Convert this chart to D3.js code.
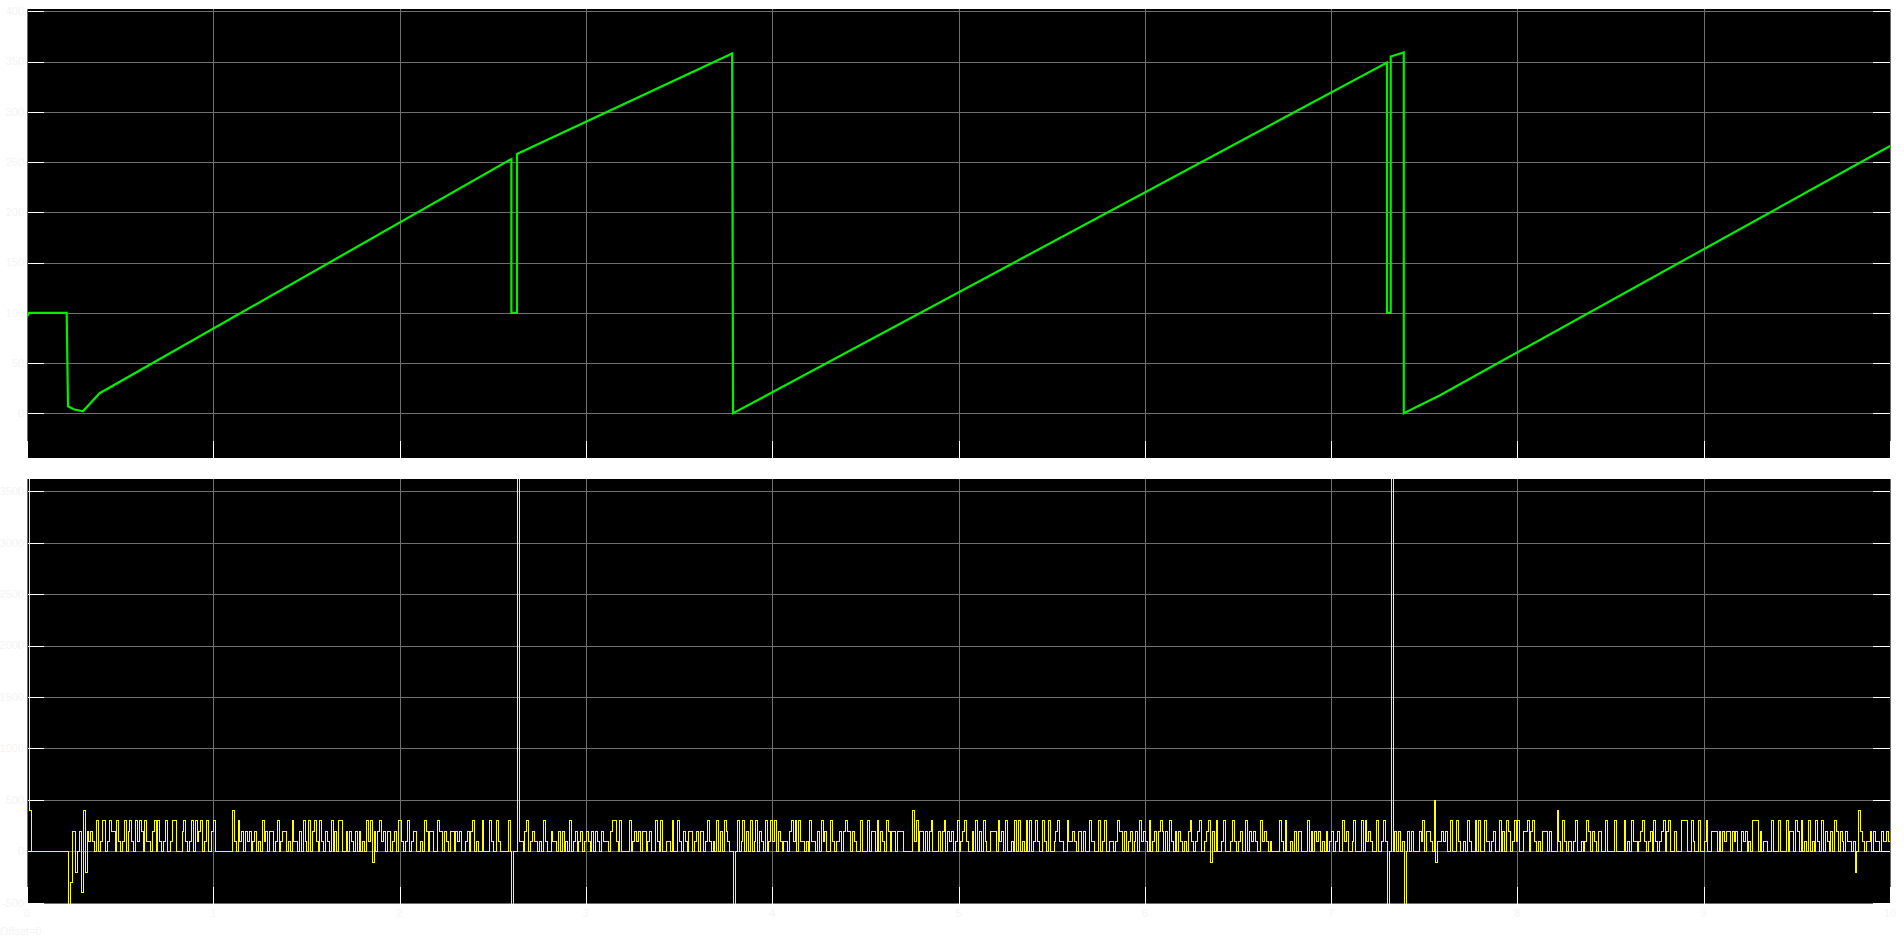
<!DOCTYPE html>
<html>
<head>
<meta charset="utf-8">
<script src="https://cdn.jsdelivr.net/npm/d3@7/dist/d3.min.js"></script>
<style>
    body { margin: 0; background: #ffffff; }
    text { font-family: "Liberation Sans", Arial, sans-serif; font-size: 11px; fill: #f4f4f4; }
</style>
</head>
<body>
<svg id="scope" width="1904" height="940"></svg>
<script>

// Sample time of the logged signals (s)
var dt = 0.01;

// Position signal (upper scope), breakpoints
var posTime = [0, 0.01, 0.213, 0.22, 0.25, 0.30, 0.39, 2.60, 2.60, 2.63, 2.63, 3.785, 3.79,
    7.30, 7.30, 7.32, 7.32, 7.39, 7.39, 7.585, 10];
var posValue = [96, 100, 100, 7, 4, 2, 20, 253, 100, 100, 258, 358, 0,
    349, 100, 100, 355, 359, 0, 18, 266];

// Rate signal (lower scope), one value per sample, in hundreds
var rate0 = [96, 4, 0, 0, 0, 0, 0, 0, 0, 0, 0, 0, 0, 0, 0, 0, 0, 0, 0, 0, 0, 0, -93, -3, 2, 2, -2, 0, 2, -4,
    4, -2, 2, 1, 2, 1, 0, 3, 0, 1, 3, 3, 0, 1, 3, 2, 2, 0, 3, 1, 0, 1, 3, 0, 2, 3, 1, 0, 3, 1,
    3, 2, 0, 3, 1, 1, 0, 2, 3, 0, 3, 1, 0, 1, 3, 0, 0, 1, 3, 3, 0, 0, 0, 2, 3, 1, 0, 1, 3, 0,
    3, 1, 2, 3, 0, 1, 3, 0, 0, 2];
var rate1 = [3, 0, 0, 0, 0, 0, 0, 0, 0, 0, 4, 1, 0, 3, 1, 2, 0, 2, 1, 2, 0, 1, 2, 0, 1, 0, 3, 1, 2, 0,
    2, 2, 0, 1, 3, 0, 1, 2, 2, 0, 1, 0, 3, 1, 1, 0, 2, 0, 3, 1, 0, 3, 0, 2, 3, 1, 0, 3, 1, 0,
    2, 1, 0, 3, 0, 2, 0, 3, 3, 0, 0, 2, 0, 2, 1, 0, 2, 0, 2, 0, 1, 0, 3, 1, 3, -1, 2, 0, 2, 3,
    1, 2, 0, 2, 2, 0, 1, 2, 0, 3];
var rate2 = [3, 1, 0, 1, 3, 0, 1, 2, 2, 0, 0, 1, 0, 3, 2, 0, 2, 2, 0, 0, 3, 2, 2, 0, 2, 1, 0, 2, 2, 0,
    2, 1, 2, 0, 0, 1, 2, 0, 2, 3, 0, 1, 0, 0, 3, 0, 0, 0, 3, 1, 0, 0, 3, 1, 0, 0, 0, 0, 3, 0,
    -153, 0, 0, 158, 1, 1, 0, 2, 3, 0, 1, 2, 1, 1, 0, 1, 0, 3, 1, 0, 0, 2, 1, 1, 0, 2, 0, 2, 0, 1,
    0, 3, 0, 1, 2, 0, 1, 2, 0, 1];
var rate3 = [2, 1, 0, 2, 0, 2, 1, 0, 2, 1, 1, 1, 0, 2, 3, 3, 1, 0, 3, 0, 0, 0, 0, 3, 0, 1, 2, 1, 2, 0,
    2, 2, 0, 1, 2, 0, 0, 3, 1, 0, 3, 0, 0, 1, 1, 0, 3, 0, 0, 3, 1, 0, 2, 1, 0, 2, 2, 0, 1, 2,
    0, 2, 2, 0, 1, 3, 1, 0, 1, 0, 3, 0, 2, 0, 3, 2, 1, 0, 0, -358, 0, 3, 0, 1, 3, 0, 2, 0, 3, 0,
    1, 3, 0, 2, 1, 0, 3, 0, 1, 3];
var rate4 = [1, 3, 0, 2, 1, 0, 1, 1, 0, 2, 3, 1, 3, 0, 3, 1, 1, 0, 1, 0, 3, 1, 1, 0, 2, 0, 3, 1, 2, 0,
    0, 3, 1, 0, 1, 1, 2, 0, 2, 3, 2, 2, 0, 2, 1, 0, 0, 3, 0, 0, 0, 3, 0, 2, 2, 0, 3, 0, 2, 1,
    0, 3, 2, 0, 2, 2, 0, 2, 2, 2, 0, 0, 0, 0, 0, 4, 1, 3, 0, 2, 2, 0, 2, 0, 2, 3, 0, 0, 0, 2,
    0, 2, 3, 0, 2, 1, 2, 0, 1, 3];
var rate5 = [0, 1, 2, 3, 1, 0, 0, 2, 0, 3, 0, 2, 0, 3, 1, 0, 0, 2, 2, 2, 0, 3, 1, 2, 0, 3, 0, 0, 1, 0,
    3, 0, 3, 0, 1, 0, 3, 0, 3, 0, 1, 3, 1, 0, 0, 3, 1, 0, 3, 0, 0, 1, 2, 3, 1, 1, 0, 0, 3, 1,
    1, 2, 1, 0, 2, 2, 0, 2, 0, 0, 3, 1, 1, 0, 0, 3, 0, 1, 3, 0, 0, 1, 1, 0, 1, 3, 2, 2, 0, 2,
    0, 1, 2, 0, 1, 2, 0, 3, 1, 2];
var rate6 = [1, 0, 3, 0, 1, 2, 0, 2, 3, 2, 0, 2, 0, 3, 1, 0, 2, 0, 2, 1, 0, 1, 0, 2, 3, 1, 0, 1, 2, 3,
    0, 0, 1, 2, 3, -1, 2, 0, 3, 0, 0, 1, 3, 0, 0, 0, 1, 3, 1, 0, 1, 2, 0, 0, 3, 0, 2, 1, 2, 1,
    0, 0, 3, 1, 2, 1, 0, 1, 0, 0, 0, 0, 3, 1, 0, 3, 0, 0, 1, 0, 2, 0, 2, 2, 0, 0, 0, 3, 0, 2,
    0, 2, 1, 2, 0, 1, 0, 2, 0, 1];
var rate7 = [2, 0, 1, 2, 0, 0, 3, 1, 2, 0, 0, 1, 3, 0, 0, 0, 3, 0, 3, 1, 2, 1, 0, 0, 3, 0, 0, 1, 3, 1,
    -249, 0, 255, 0, 2, 0, 2, 0, 1, -359, 0, 2, 0, 2, 0, 0, 0, 2, 1, 3, 0, 2, 2, 1, 0, 5, -1, 1, 1, 2,
    1, 2, 0, 0, 3, 0, 0, 3, 1, 0, 0, 1, 0, 3, 1, 0, 0, 3, 0, 3, 0, 0, 3, 1, 1, 0, 1, 2, 0, 0,
    3, 0, 2, 0, 3, 2, 0, 1, 3, 1];
var rate8 = [3, 0, 0, 2, 2, 3, 0, 2, 3, 1, 0, 1, 0, 2, 2, 2, 0, 2, 0, 0, 0, 4, 1, 0, 3, 1, 0, 1, 1, 0,
    1, 3, 0, 0, 1, 0, 1, 3, 2, 0, 2, 1, 0, 2, 2, 0, 0, 3, 0, 0, 0, 0, 3, 0, 0, 0, 0, 3, 0, 1,
    0, 3, 1, 1, 0, 1, 2, 3, 1, 0, 1, 2, 0, 3, 1, 0, 1, 2, 3, 0, 2, 3, 0, 0, 2, 0, 0, 0, 3, 3,
    3, 0, 0, 3, 1, 0, 0, 3, 0, 0];
var rate9 = [1, 3, 0, 0, 2, 2, 2, 0, 2, 0, 2, 1, 2, 2, 0, 2, 1, 2, 0, 0, 2, 1, 2, 0, 1, 0, 3, 3, 3, 0,
    2, 0, 1, 1, 0, 0, 3, 0, 0, 0, 3, 0, 0, 0, 3, 0, 2, 2, 0, 3, 2, 0, 3, 0, 1, 0, 3, 0, 1, 0,
    3, 1, 0, 3, 0, 2, 1, 0, 2, 0, 3, 2, 0, 2, 1, 0, 2, 1, 1, 0, 1, -2, 0, 4, 2, 1, 0, 1, 1, 2,
    0, 2, 1, 1, 0, 2, 1, 1, 2, 1];

// Tick values
var xTicks = [0, 1, 2, 3, 4, 5, 6, 7, 8, 9, 10];
var posTicks = [0, 50, 100, 150, 200, 250, 300, 350, 400];
var rateTicks = [-500, 0, 500, 1000, 1500, 2000, 2500, 3000, 3500];

// Select the svg DOM element
var svg = d3.select("#scope");

// Shared time axis
var x = d3.scaleLinear().domain([0, 10]).range([27, 1890]);

// One scale per scope panel
var yPos = d3.scaleLinear().domain([-44.5, 402.3]).range([458, 9]);
var yRate = d3.scaleLinear().domain([-512, 3620]).range([904, 479]);

/**
 * Draw the black panel, grid and inward tick marks
 * @param y scale of the panel
 * @param ticks y tick values
 * @param id clip path id
 * @returns the clipped group for the trace
 */
function drawPanel(y, ticks, id) {
    var x0 = x.range()[0], x1 = x.range()[1];
    var top = y.range()[1], bottom = y.range()[0];
    var tickLen = 17;

    svg.append("rect")
        .attr("x", x0).attr("y", top)
        .attr("width", x1 - x0).attr("height", bottom - top)
        .attr("fill", "#000000");

    var grid = svg.append("g")
        .attr("shape-rendering", "crispEdges");

    // Horizontal grid with white ticks on both sides
    ticks.forEach(function (v) {
        var py = Math.round(y(v)) + 0.5;
        grid.append("line")
            .attr("x1", x0).attr("x2", x1).attr("y1", py).attr("y2", py)
            .attr("stroke", "#6f6f6f");
        grid.append("line")
            .attr("x1", x0).attr("x2", x0 + tickLen).attr("y1", py).attr("y2", py)
            .attr("stroke", "#ffffff");
        grid.append("line")
            .attr("x1", x1 - tickLen).attr("x2", x1).attr("y1", py).attr("y2", py)
            .attr("stroke", "#ffffff");
    });

    // Vertical grid with white ticks at the bottom
    xTicks.forEach(function (t) {
        var px = Math.round(x(t)) + 0.5;
        grid.append("line")
            .attr("x1", px).attr("x2", px).attr("y1", top).attr("y2", bottom)
            .attr("stroke", "#6f6f6f");
        grid.append("line")
            .attr("x1", px).attr("x2", px).attr("y1", bottom - tickLen).attr("y2", bottom)
            .attr("stroke", "#ffffff");
    });

    // Tick labels (very faint, as in the scope window)
    svg.append("g").selectAll("text")
        .data(ticks)
        .enter().append("text")
        .attr("x", x0 - 3)
        .attr("y", function (d) { return y(d); })
        .attr("dy", "0.35em")
        .attr("text-anchor", "end")
        .text(function (d) { return d; });

    svg.append("clipPath").attr("id", id)
        .append("rect")
        .attr("x", x0).attr("y", top)
        .attr("width", x1 - x0).attr("height", bottom - top);

    return svg.append("g").attr("clip-path", "url(#" + id + ")");
}

// Upper panel: position trace
var posPanel = drawPanel(yPos, posTicks, "clipPos");

var posData = posTime.map(function (t, i) {
    return { t: t, v: posValue[i] };
});

posPanel.append("path")
    .datum(posData)
    .attr("fill", "none")
    .attr("stroke", "#00f000")
    .attr("stroke-width", 2.2)
    .attr("d", d3.line()
        .x(function (d) { return x(d.t); })
        .y(function (d) { return yPos(d.v); }));

// Lower panel: rate trace
var ratePanel = drawPanel(yRate, rateTicks, "clipRate");

var rateSamples = [].concat(rate0, rate1, rate2, rate3, rate4, rate5, rate6, rate7, rate8, rate9);
var rateData = rateSamples.map(function (v, i) {
    return { t: i * dt, v: v * 100 };
});
// hold the last sample to the end of the window
rateData.push({ t: 10, v: rateSamples[rateSamples.length - 1] * 100 });

ratePanel.append("path")
    .datum(rateData)
    .attr("fill", "none")
    .attr("stroke", "#ffff00")
    .attr("stroke-width", 1)
    .attr("shape-rendering", "crispEdges")
    .attr("d", d3.line()
        .curve(d3.curveStepAfter)
        .x(function (d) { return Math.round(x(d.t)) + 0.5; })
        .y(function (d) { return Math.round(yRate(d.v)) + 0.5; }));

// Time labels under the lower panel
svg.append("g").selectAll("text")
    .data(xTicks)
    .enter().append("text")
    .attr("x", function (d) { return x(d); })
    .attr("y", 917)
    .attr("text-anchor", "middle")
    .text(function (d) { return d; });

svg.append("text")
    .attr("x", 0)
    .attr("y", 935)
    .text("Offset=0");

</script>
</body>
</html>
